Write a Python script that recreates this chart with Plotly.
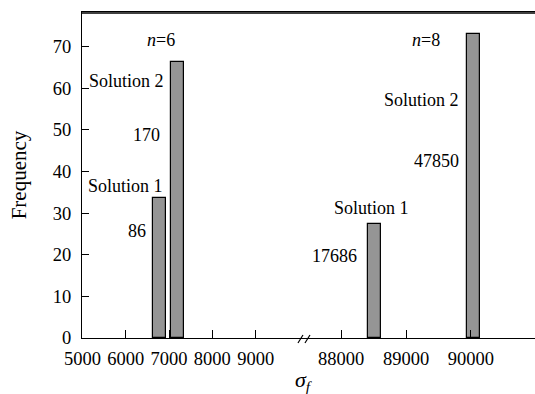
import plotly.graph_objects as go

# ---- data ----
seg1_x = [6775, 7195]          # sigma_f values, left segment
seg1_freq = [33.6, 66.4]
seg2_x = [88518, 90045]        # sigma_f values, right segment
seg2_freq = [27.4, 73.0]

seg1_ticks = [5000, 6000, 7000, 8000, 9000]
seg2_ticks = [88000, 89000, 90000]
y_ticks = [0, 10, 20, 30, 40, 50, 60, 70]

FONT = "'Liberation Serif', 'Times New Roman', serif"
BAR_FILL = "#959595"

fig = go.Figure()
fig.add_trace(go.Bar(x=seg1_x, y=seg1_freq, width=[307] * len(seg1_x),
                     marker=dict(color=BAR_FILL, line=dict(color="black", width=1.2)),
                     xaxis="x", yaxis="y", showlegend=False))
fig.add_trace(go.Bar(x=seg2_x, y=seg2_freq, width=[200] * len(seg2_x),
                     marker=dict(color=BAR_FILL, line=dict(color="black", width=1.2)),
                     xaxis="x2", yaxis="y", showlegend=False))

split = 0.490
common_x = dict(showgrid=False, zeroline=False, showline=True, linecolor="black",
                linewidth=1.2, mirror=True, ticks="inside", ticklen=8, tickwidth=1,
                tickcolor="black", tickfont=dict(family=FONT, size=18.5, color="black"),
                ticklabelstandoff=4)

fig.update_layout(
    width=535, height=394,
    margin=dict(l=82, r=0, t=12, b=56, autoexpand=False),
    paper_bgcolor="white", plot_bgcolor="white",
    bargap=0,
    xaxis=dict(domain=[0, split], range=[4991, 10115],
               tickvals=seg1_ticks, ticktext=[str(v) for v in seg1_ticks],
               anchor="y", **common_x),
    xaxis2=dict(domain=[split, 1], range=[87430, 90985],
                tickvals=seg2_ticks, ticktext=[str(v) for v in seg2_ticks],
                anchor="y", **common_x),
    yaxis=dict(range=[0, 78.3], tickvals=y_ticks, ticktext=[str(v) for v in y_ticks],
               showgrid=False, zeroline=False, showline=True, linecolor="black",
               linewidth=1.2, ticks="inside", ticklen=7, tickwidth=1, tickcolor="black",
               tickfont=dict(family=FONT, size=18.5, color="black"),
               ticklabelstandoff=6,
               title=dict(text="Frequency", font=dict(family=FONT, size=21, color="black"),
                          standoff=20)),
)

ann_font = dict(family=FONT, size=18, color="black")
labels = [
    ("x", 7183, 71.6, "<i>n</i>=6", "right"),
    ("x", 6930, 61.8, "Solution 2", "right"),
    ("x", 6830, 48.8, "170", "right"),
    ("x", 6907, 36.4, "Solution 1", "right"),
    ("x", 6521, 25.6, "86", "right"),
    ("x2", 88466, 31.3, "Solution 1", "center"),
    ("x2", 88282, 19.6, "17686", "right"),
    ("x2", 89549, 71.6, "<i>n</i>=8", "right"),
    ("x2", 89846, 57.2, "Solution 2", "right"),
    ("x2", 89846, 42.6, "47850", "right"),
]
for xr, xv, yv, txt, anc in labels:
    fig.add_annotation(xref=xr, yref="y", x=xv, y=yv, text=txt, showarrow=False,
                       xanchor=anc, yanchor="middle", font=ann_font)

# x-axis title
fig.add_annotation(xref="paper", yref="paper", x=split, y=0, yshift=-43,
                   text="<i>σ</i><sub><i>f</i></sub>", showarrow=False,
                   xanchor="center", yanchor="middle",
                   font=dict(family=FONT, size=22, color="black"))

# top frame line, nudged one pixel inside the plot area
fig.add_shape(type="line", xref="paper", yref="paper",
              ysizemode="pixel", yanchor=1, y0=-1, y1=-1, x0=0, x1=1,
              layer="above", line=dict(color="black", width=1.4))

# axis break marks
for dx in (-6, 1):
    fig.add_shape(type="line", xref="paper", yref="paper",
                  xsizemode="pixel", ysizemode="pixel", xanchor=split, yanchor=0,
                  x0=dx, x1=dx + 5, y0=-5, y1=3,
                  line=dict(color="black", width=1.2))

fig.write_html("out.html", config={"displayModeBar": False},
               post_script="document.body.style.margin='0';document.body.style.overflow='hidden';")
